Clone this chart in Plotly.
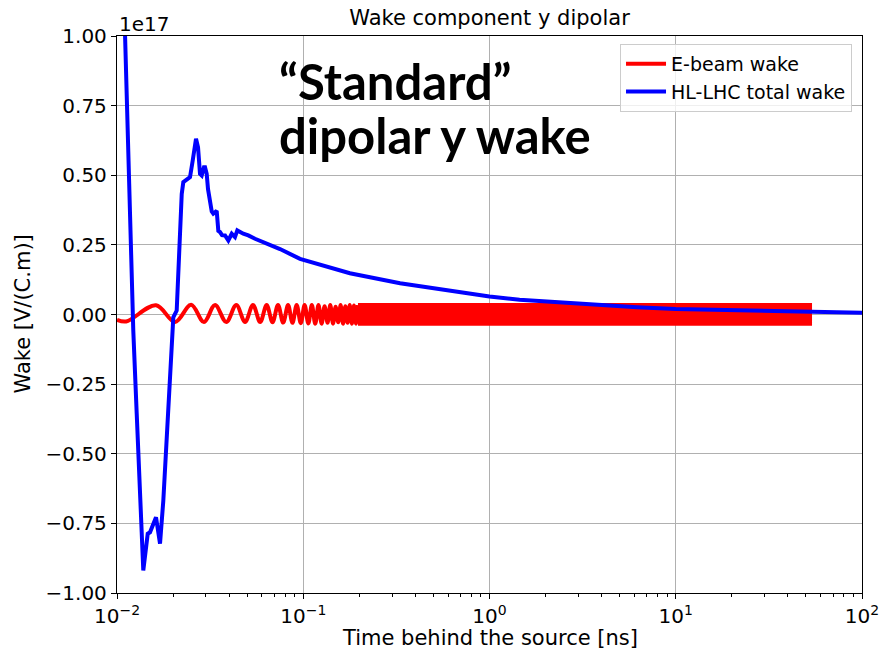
import plotly.graph_objects as go

# Wake amplitudes are given in units of 1e17 V/(C.m)
WAKE_UNIT = 1e17

# HL-LHC total dipolar y wake: time [ns], wake [1e17 V/(C.m)]
hl_time = [0.01084, 0.01104, 0.01199, 0.01223, 0.01276, 0.01329, 0.01357, 0.01384,
           0.01462, 0.01504, 0.01620, 0.01702, 0.01773, 0.01849, 0.01926, 0.02006,
           0.02092, 0.02127, 0.02179, 0.02226, 0.02270, 0.02367, 0.02466, 0.02550,
           0.02656, 0.02723, 0.02791, 0.02850, 0.02931, 0.02969, 0.03031, 0.03081,
           0.03226, 0.03289, 0.03430, 0.03500, 0.03573, 0.03663, 0.03801, 0.03960,
           0.04130, 0.04300, 0.04425, 0.04766, 0.05071, 0.05508, 0.06365, 0.07503,
           0.09607, 0.178, 0.331, 0.614, 1.00, 1.45, 2.70, 4.06, 6.20, 10.0, 17.3,
           32.0, 52.6, 100.0]
hl_wake = [1.20, 1.00, 0.12, -0.057, -0.356, -0.656, -0.836, -0.919,
           -0.787, -0.782, -0.728, -0.823, -0.668, -0.45, -0.22, -0.01,
           0.014, 0.15, 0.30, 0.433, 0.475, 0.485, 0.493, 0.553,
           0.631, 0.60, 0.505, 0.499, 0.529, 0.529, 0.505, 0.45,
           0.370, 0.362, 0.372, 0.300, 0.296, 0.285, 0.284, 0.266,
           0.290, 0.278, 0.302, 0.290, 0.284, 0.272, 0.254, 0.235,
           0.200, 0.148, 0.112, 0.086, 0.065, 0.053, 0.041, 0.032, 0.026, 0.020, 0.017,
           0.012, 0.008, 0.006]

# E-beam wake: resolved oscillation extrema at early times
eb_time = [0.0100, 0.0112, 0.0162, 0.0205, 0.0250, 0.0293, 0.0336, 0.0386, 0.0437,
           0.0487, 0.0537, 0.0587, 0.0636, 0.0684, 0.0732, 0.0780, 0.0829, 0.0875,
           0.0922, 0.0970, 0.1017, 0.1065, 0.1112, 0.1160, 0.1207, 0.1255, 0.1302,
           0.1350, 0.1397, 0.1445, 0.1492, 0.1540, 0.1587, 0.1635, 0.1682, 0.1730,
           0.1777, 0.1825, 0.1872, 0.1920, 0.1967]
eb_wake = [-0.019, -0.025, 0.033, -0.027, 0.035, -0.027, 0.034, -0.027, 0.034,
           -0.027, 0.034, -0.027, 0.034, -0.028, 0.034, -0.029, 0.034, -0.030,
           0.034, -0.031, 0.034, -0.032, 0.034, -0.033, 0.034, -0.033, 0.030,
           -0.030, 0.034, -0.033, 0.028, -0.028, 0.034, -0.033, 0.030, -0.030,
           0.034, -0.033, 0.032, -0.033, 0.034]

# E-beam wake: envelope of the dense oscillation up to the end of the record
eb_band_time = [0.1967, 52.6]
eb_band_hi = [0.034, 0.034]
eb_band_lo = [-0.033, -0.033]

# Axis ticks
y_ticks = [-1.00, -0.75, -0.50, -0.25, 0.00, 0.25, 0.50, 0.75, 1.00]
x_tick_exps = [-2, -1, 0, 1, 2]
minor_x = [m * 10.0 ** e for e in range(-2, 2) for m in range(2, 10)]

TXT = "DejaVu Sans"
LW = 4
fig = go.Figure()

fig.add_trace(go.Scatter(
    x=eb_time, y=[v * WAKE_UNIT for v in eb_wake], mode="lines",
    line=dict(color="#ff0000", width=LW, shape="spline"),
    name="E-beam wake", legendgroup="eb"))
band_x = eb_band_time + eb_band_time[::-1]
band_y = [v * WAKE_UNIT for v in eb_band_hi] + [v * WAKE_UNIT for v in eb_band_lo[::-1]]
fig.add_trace(go.Scatter(
    x=band_x, y=band_y, mode="lines", fill="toself", fillcolor="#ff0000",
    line=dict(color="#ff0000", width=LW), showlegend=False, legendgroup="eb",
    hoverinfo="skip"))
fig.add_trace(go.Scatter(
    x=hl_time, y=[v * WAKE_UNIT for v in hl_wake], mode="lines",
    line=dict(color="#0000ff", width=LW), name="HL-LHC total wake"))

axis_common = dict(showline=True, linecolor="black", linewidth=1.3, mirror=True,
                   ticks="outside", ticklen=5, tickwidth=1.3, tickcolor="black",
                   showgrid=True, gridcolor="#b0b0b0", gridwidth=1, zeroline=False,
                   automargin=False,
                   tickfont=dict(family=TXT, size=20, color="black"))

fig.update_xaxes(type="log", range=[-2, 2],
                 tickmode="array", tickvals=[10.0 ** e for e in x_tick_exps],
                 ticktext=["10<sup>%s</sup>" % (str(e).replace("-", "\u2212")) for e in x_tick_exps],
                 minor=dict(tickmode="array", tickvals=minor_x, ticks="outside", ticklen=3,
                            tickwidth=1, tickcolor="black", showgrid=False),
                 **axis_common)
fig.update_yaxes(range=[-1 * WAKE_UNIT, 1 * WAKE_UNIT],
                 tickmode="array", tickvals=[v * WAKE_UNIT for v in y_ticks],
                 ticktext=[("%.2f" % v).replace("-", "\u2212") for v in y_ticks],
                 **axis_common)

fig.update_layout(
    width=881, height=652,
    margin=dict(l=117, r=19, t=36, b=59, autoexpand=False),
    paper_bgcolor="white", plot_bgcolor="white",
    showlegend=True,
    legend=dict(x=0.9866, y=0.9856, xanchor="right", yanchor="top",
                bgcolor="rgba(255,255,255,0.8)", bordercolor="#cccccc", borderwidth=1,
                font=dict(family=TXT, size=19, color="black"), traceorder="normal",
                itemwidth=40),
    title=dict(text="Wake component y dipolar", x=489.5 / 881, xanchor="center",
               y=1 - 18 / 652, yanchor="middle",
               font=dict(family=TXT, size=21, color="black")),
)

annotations = [
    dict(text="1e17", xref="paper", yref="paper", x=0, y=1, xanchor="left",
         yanchor="bottom", showarrow=False, yshift=-2,
         font=dict(family=TXT, size=20, color="black")),
    dict(text="Time behind the source [ns]", xref="paper", yref="paper", x=0.5, y=0,
         xanchor="center", yanchor="middle", yshift=-45, showarrow=False,
         font=dict(family=TXT, size=21, color="black")),
    dict(text="Wake [V/(C.m)]", xref="paper", yref="paper", x=0, y=0.5,
         xanchor="center", yanchor="middle", xshift=-95, textangle=-90, showarrow=False,
         font=dict(family=TXT, size=21, color="black")),
    dict(text="<b>\u201cStandard\u201d</b>", xref="paper", yref="paper",
         x=(277 - 117) / 745, y=1 - (50 - 36) / 557, xanchor="left", yanchor="top",
         showarrow=False, font=dict(family="Lato", size=49, color="black")),
    dict(text="<b>dipolar y wake</b>", xref="paper", yref="paper",
         x=(277 - 117) / 745, y=1 - (104 - 36) / 557, xanchor="left", yanchor="top",
         showarrow=False, font=dict(family="Lato", size=49, color="black")),
]
fig.update_layout(annotations=annotations)

fig.write_html("out.html")
